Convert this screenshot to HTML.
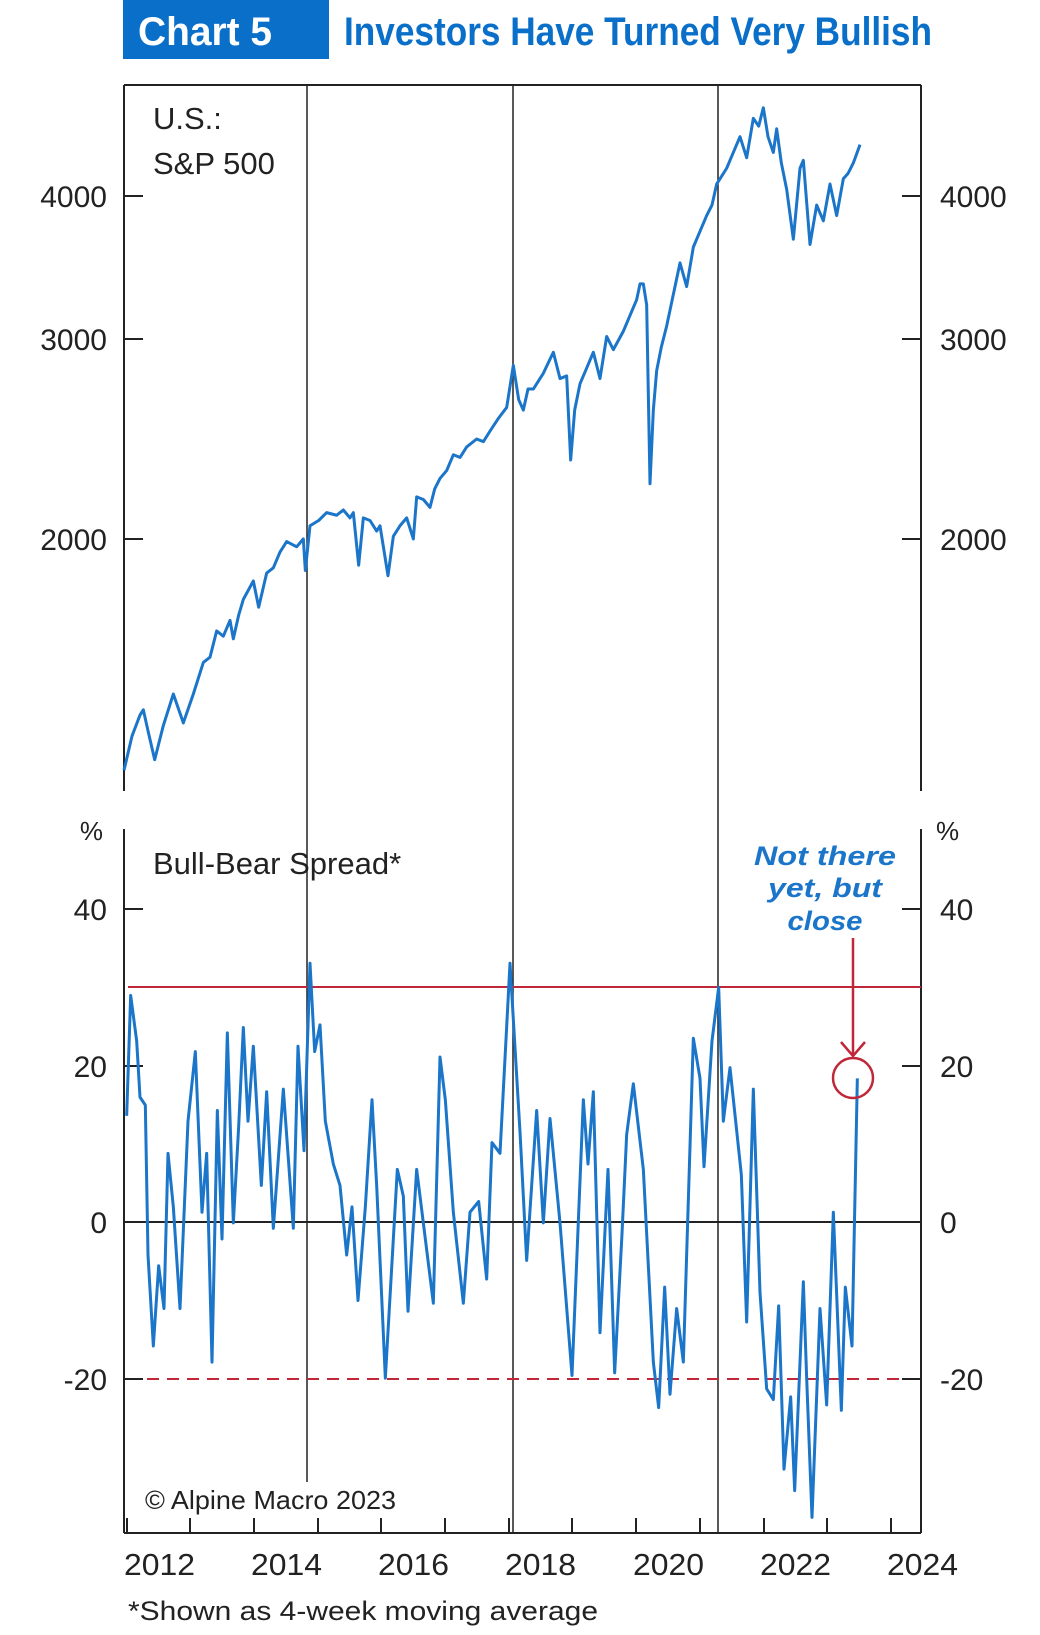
<!DOCTYPE html>
<html><head><meta charset="utf-8"><style>
html,body{margin:0;padding:0;background:#fff;}
svg{display:block;}
text{font-family:"Liberation Sans",sans-serif;fill:#222;}
</style></head><body>
<svg width="1040" height="1635" viewBox="0 0 1040 1635" xmlns="http://www.w3.org/2000/svg">
<rect x="123" y="0" width="206" height="59" fill="#0a6fc8"/>
<text x="138" y="45" font-family="'Liberation Sans Narrow','Liberation Sans',sans-serif" font-weight="bold" font-size="40" style="fill:#fff" textLength="134" lengthAdjust="spacingAndGlyphs">Chart 5</text>
<text x="344" y="45" font-family="'Liberation Sans Narrow','Liberation Sans',sans-serif" font-weight="bold" font-size="40" style="fill:#0a6fc8" textLength="588" lengthAdjust="spacingAndGlyphs">Investors Have Turned Very Bullish</text>

<g stroke="#222" stroke-width="2" fill="none">
<!-- top panel frame -->
<line x1="124" y1="85" x2="921" y2="85"/>
<line x1="124" y1="85" x2="124" y2="791"/>
<line x1="921" y1="85" x2="921" y2="791"/>
<!-- bottom panel frame -->
<line x1="124" y1="829" x2="124" y2="1533"/>
<line x1="921" y1="829" x2="921" y2="1533"/>
<line x1="124" y1="1533" x2="921" y2="1533"/>
<!-- vertical event lines -->
<line x1="307" y1="85" x2="307" y2="1482" stroke-width="1.5"/>
<line x1="513" y1="85" x2="513" y2="1533" stroke-width="1.5"/>
<line x1="718" y1="85" x2="718" y2="1533" stroke-width="1.5"/>
<!-- top ticks -->
<line x1="124" y1="196" x2="143" y2="196"/><line x1="902" y1="196" x2="921" y2="196"/>
<line x1="124" y1="339" x2="143" y2="339"/><line x1="902" y1="339" x2="921" y2="339"/>
<line x1="124" y1="539" x2="143" y2="539"/><line x1="902" y1="539" x2="921" y2="539"/>
<!-- bottom ticks -->
<line x1="124" y1="909" x2="143" y2="909"/><line x1="902" y1="909" x2="921" y2="909"/>
<line x1="124" y1="1066" x2="143" y2="1066"/><line x1="902" y1="1066" x2="921" y2="1066"/>
<line x1="124" y1="1379" x2="143" y2="1379"/><line x1="902" y1="1379" x2="921" y2="1379"/>
<line x1="124" y1="1222" x2="921" y2="1222"/>
<!-- x ticks -->
<line x1="127" y1="1518" x2="127" y2="1533"/>
<line x1="190" y1="1518" x2="190" y2="1533"/>
<line x1="254" y1="1518" x2="254" y2="1533"/>
<line x1="318" y1="1518" x2="318" y2="1533"/>
<line x1="381" y1="1518" x2="381" y2="1533"/>
<line x1="445" y1="1518" x2="445" y2="1533"/>
<line x1="509" y1="1518" x2="509" y2="1533"/>
<line x1="572" y1="1518" x2="572" y2="1533"/>
<line x1="636" y1="1518" x2="636" y2="1533"/>
<line x1="700" y1="1518" x2="700" y2="1533"/>
<line x1="764" y1="1518" x2="764" y2="1533"/>
<line x1="827" y1="1518" x2="827" y2="1533"/>
<line x1="891" y1="1518" x2="891" y2="1533"/>
</g>
<!-- reference lines -->
<line x1="128" y1="987" x2="921" y2="987" stroke="#c0283a" stroke-width="2"/>
<line x1="147" y1="1379" x2="907" y2="1379" stroke="#c0283a" stroke-width="2" stroke-dasharray="12,8"/>

<!-- labels -->
<g font-size="30">
<text x="107" y="207" text-anchor="end">4000</text>
<text x="107" y="350" text-anchor="end">3000</text>
<text x="107" y="550" text-anchor="end">2000</text>
<text x="940" y="207">4000</text>
<text x="940" y="350">3000</text>
<text x="940" y="550">2000</text>
<text x="107" y="920" text-anchor="end">40</text>
<text x="107" y="1077" text-anchor="end">20</text>
<text x="107" y="1233" text-anchor="end">0</text>
<text x="107" y="1390" text-anchor="end">-20</text>
<text x="940" y="920">40</text>
<text x="940" y="1077">20</text>
<text x="940" y="1233">0</text>
<text x="940" y="1390">-20</text>
<text x="103" y="840" font-size="26" text-anchor="end">%</text>
<text x="936" y="840" font-size="26">%</text>
<text x="153" y="129" font-size="31">U.S.:</text>
<text x="153" y="174" font-size="31">S&amp;P 500</text>
<text x="153" y="874" font-size="31">Bull-Bear Spread*</text>
<text x="124" y="1575" font-size="31" textLength="71" lengthAdjust="spacingAndGlyphs">2012</text>
<text x="251" y="1575" font-size="31" textLength="71" lengthAdjust="spacingAndGlyphs">2014</text>
<text x="378" y="1575" font-size="31" textLength="71" lengthAdjust="spacingAndGlyphs">2016</text>
<text x="505" y="1575" font-size="31" textLength="71" lengthAdjust="spacingAndGlyphs">2018</text>
<text x="633" y="1575" font-size="31" textLength="71" lengthAdjust="spacingAndGlyphs">2020</text>
<text x="760" y="1575" font-size="31" textLength="71" lengthAdjust="spacingAndGlyphs">2022</text>
<text x="887" y="1575" font-size="31" textLength="71" lengthAdjust="spacingAndGlyphs">2024</text>
<text x="145" y="1509" font-size="26" textLength="251" lengthAdjust="spacingAndGlyphs">© Alpine Macro 2023</text>
<text x="128" y="1620" font-size="27" textLength="470" lengthAdjust="spacingAndGlyphs">*Shown as 4-week moving average</text>
</g>
<g font-family="'DejaVu Sans',sans-serif" font-style="italic" font-weight="bold" font-size="27" text-anchor="middle" style="fill:#1b75c9">
<text x="825" y="865" style="fill:#1b75c9" textLength="142" lengthAdjust="spacingAndGlyphs">Not there</text>
<text x="825" y="897" style="fill:#1b75c9" textLength="114" lengthAdjust="spacingAndGlyphs">yet, but</text>
<text x="825" y="930" style="fill:#1b75c9" textLength="75" lengthAdjust="spacingAndGlyphs">close</text>
</g>

<!-- S&P 500 -->
<g transform="scale(0.66667 0.52576)">
<polyline vector-effect="non-scaling-stroke" fill="none" stroke="#1b75c9" stroke-width="3" stroke-linejoin="round" points="186,1465 198,1400 210,1360 215,1350 222,1390 232,1445 245,1380 260,1320 275,1375 290,1320 305,1260 315,1250 325,1200 335,1210 345,1180 350,1215 358,1170 365,1140 380,1105 388,1155 400,1090 410,1080 420,1050 430,1030 445,1040 455,1025 458,1085 465,1000 478,990 490,975 505,980 515,970 525,985 530,975 538,1075 545,985 555,990 565,1010 570,1000 582,1095 590,1020 600,1000 610,985 620,1025 625,945 635,950 645,965 652,930 660,910 670,895 680,865 690,870 700,850 715,835 725,840 735,820 748,795 760,775 770,695 778,760 785,780 792,740 800,740 815,710 830,670 840,720 850,715 856,875 862,780 870,730 880,700 890,670 900,720 910,640 920,665 935,630 945,600 955,570 960,540 965,540 970,580 975,920 980,780 985,705 992,660 1000,620 1010,560 1020,500 1030,545 1040,470 1050,440 1060,410 1068,390 1075,350 1090,320 1100,290 1110,260 1120,300 1130,225 1138,240 1145,205 1152,260 1160,290 1165,245 1172,310 1180,360 1190,455 1200,320 1205,305 1215,465 1225,390 1235,420 1245,350 1255,410 1265,340 1272,330 1280,310 1290,275"/>
</g>
<!-- Bull-Bear -->
<g transform="translate(0 800) scale(0.66667 0.53533)">
<polyline vector-effect="non-scaling-stroke" fill="none" stroke="#1b75c9" stroke-width="3" stroke-linejoin="round" points="190,590 196,365 205,450 210,555 218,570 222,850 230,1020 238,870 246,950 252,660 260,760 270,950 282,600 293,470 303,770 310,660 318,1050 326,580 333,820 341,435 350,790 358,610 365,425 372,600 380,460 392,720 400,545 410,800 425,540 440,800 447,460 456,655 465,305 472,470 480,420 488,600 500,680 510,720 520,850 528,760 537,935 548,760 558,560 565,720 578,1080 596,690 605,740 612,955 625,690 632,760 650,940 660,480 668,560 680,770 695,940 705,770 718,750 730,895 738,640 750,660 765,305 780,620 790,860 805,580 815,790 825,595 840,790 858,1075 875,560 882,680 890,545 900,995 912,690 922,1070 933,810 940,625 950,530 965,690 980,1050 988,1135 997,910 1005,1110 1015,950 1025,1050 1040,445 1050,520 1056,685 1068,450 1078,350 1085,600 1095,500 1112,700 1120,975 1130,540 1140,920 1150,1100 1160,1120 1168,945 1176,1250 1186,1115 1192,1290 1205,900 1210,1080 1218,1340 1230,950 1240,1130 1250,770 1262,1140 1268,910 1278,1020 1286,520"/>
</g>
<!-- arrow + circle -->
<g stroke="#c0283a" stroke-width="2.5" fill="none">
<line x1="853" y1="938" x2="853" y2="1056"/>
<polyline points="841,1042 853,1056 865,1042"/>
<circle cx="853" cy="1078" r="20"/>
</g>
</svg>
</body></html>
